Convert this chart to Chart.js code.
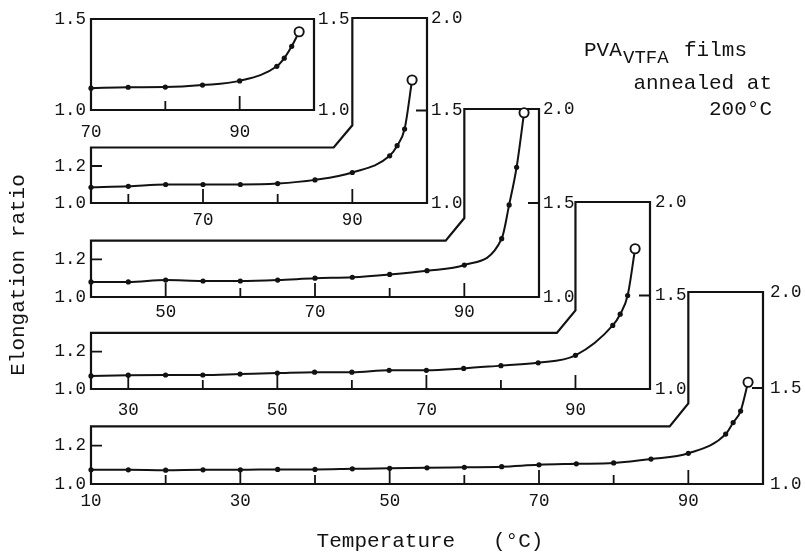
<!DOCTYPE html>
<html>
<head>
<meta charset="utf-8">
<script src="https://cdn.jsdelivr.net/npm/chart.js@4.4.1/dist/chart.umd.min.js"></script>
<style>
  html, body { margin: 0; padding: 0; background: #fff; }
  #wrap { position: relative; width: 805px; height: 552px; }
  #wrap canvas { position: absolute; left: 0; top: 0; }
</style>
</head>
<body>
<div id="wrap">
  <canvas id="p1" width="805" height="552"></canvas>
  <canvas id="p2" width="805" height="552"></canvas>
  <canvas id="p3" width="805" height="552"></canvas>
  <canvas id="p4" width="805" height="552"></canvas>
  <canvas id="p5" width="805" height="552"></canvas>
</div>
<script>
// Temperature (°C) and elongation ratio, one pair per panel (top to bottom)
const temps1 = [70, 75, 80, 85, 90, 95, 96, 97, 98];
const ratio1 = [1.12, 1.125, 1.126, 1.137, 1.16, 1.24, 1.285, 1.35, 1.43];

const temps2 = [55, 60, 65, 70, 75, 80, 85, 90, 95, 96, 97, 98];
const ratio2 = [1.085, 1.09, 1.1, 1.1, 1.1, 1.105, 1.125, 1.165, 1.255, 1.31, 1.4, 1.665];

const temps3 = [40, 45, 50, 55, 60, 65, 70, 75, 80, 85, 90, 95, 96, 97, 98];
const ratio3 = [1.08, 1.08, 1.09, 1.085, 1.085, 1.09, 1.1, 1.105, 1.12, 1.14, 1.17, 1.31, 1.49, 1.69, 1.98];

const temps4 = [25, 30, 35, 40, 45, 50, 55, 60, 65, 70, 75, 80, 85, 90, 95, 96, 97, 98];
const ratio4 = [1.07, 1.074, 1.075, 1.075, 1.08, 1.085, 1.09, 1.09, 1.1, 1.1, 1.11, 1.125, 1.14, 1.18, 1.34, 1.4, 1.5, 1.75];

const temps5 = [10, 15, 20, 25, 30, 35, 40, 45, 50, 55, 60, 65, 70, 75, 80, 85, 90, 95, 96, 97, 98];
const ratio5 = [1.074, 1.074, 1.072, 1.074, 1.074, 1.076, 1.076, 1.079, 1.082, 1.084, 1.087, 1.09, 1.1, 1.105, 1.11, 1.13, 1.16, 1.26, 1.32, 1.38, 1.53];

// Axis ranges and tick labels
const xMins = [70, 55, 40, 25, 10];
const xMax = 100;
const xLabels1 = [70, 90];
const xLabels2 = [70, 90];
const xLabels3 = [50, 70, 90];
const xLabels4 = [30, 50, 70, 90];
const xLabels5 = [10, 30, 50, 70, 90];
const xMinor1 = [80];
const xMinor2 = [60, 80];
const xMinor3 = [60, 80];
const xMinor4 = [40, 60, 80];
const xMinor5 = [20, 40, 60, 80];
const yLeftShort = [1.0, 1.5];
const yRightShort = [1.0, 1.5];
const yLeftTall = [1.0, 1.2];
const yRightTall = [1.0, 1.5, 2.0];

// Shape of the stepped frame (data units)
const stripTop = 1.3;
const stepStart = 87.5;
const stepEnd = 90;
const stepY = 1.42;

// Where each panel sits on the page (pixels)
const boxes = [
  { left: 91, right: 314, top: 19, bottom: 110, labelDy: 22, rightGap: 4 },
  { left: 91, right: 427, top: 18, bottom: 203, labelDy: 17, rightGap: 4 },
  { left: 91, right: 539, top: 109, bottom: 297, labelDy: 15, rightGap: 4 },
  { left: 91, right: 650, top: 202, bottom: 389, labelDy: 21, rightGap: 5 },
  { left: 91, right: 763, top: 292, bottom: 484, labelDy: 17, rightGap: 7 },
];

const INK = "#121212";
const tickFont = '17.5px "Liberation Mono", "DejaVu Sans Mono", monospace';
const titleFont = '21px "Liberation Mono", "DejaVu Sans Mono", monospace';
const noteFont = '21px "Liberation Mono", "DejaVu Sans Mono", monospace';
const subFont = '19px "Liberation Mono", "DejaVu Sans Mono", monospace';

// Frame, ticks and tick labels, drawn from the chart's own scales
function framePlugin(cfg) {
  return {
    id: "frame" + cfg.id,
    beforeDatasetsDraw(chart) {
      const { ctx } = chart;
      const x = chart.scales.x;
      const y = chart.scales.y;
      const xMin = x.min;
      const yMax = y.max;
      const X = (v) => x.getPixelForValue(v);
      const Y = (v) => y.getPixelForValue(v);

      const outline = cfg.tall
        ? [[xMin, 1], [xMin, stripTop], [stepStart, stripTop], [stepEnd, stepY], [stepEnd, yMax], [xMax, yMax], [xMax, 1]]
        : [[xMin, 1], [xMin, yMax], [xMax, yMax], [xMax, 1]];

      ctx.save();
      ctx.strokeStyle = INK;
      ctx.lineWidth = 2.2;
      ctx.lineJoin = "miter";
      ctx.beginPath();
      outline.forEach((p, i) => {
        if (i === 0) ctx.moveTo(X(p[0]), Y(p[1]));
        else ctx.lineTo(X(p[0]), Y(p[1]));
      });
      ctx.closePath();
      ctx.stroke();

      // x ticks grow upward from the bottom edge
      const bottom = Y(1);
      ctx.lineWidth = 1.8;
      ctx.beginPath();
      cfg.xLabels.filter((v) => v > xMin).forEach((v) => {
        ctx.moveTo(X(v), bottom);
        ctx.lineTo(X(v), bottom - 14);
      });
      cfg.xMinor.forEach((v) => {
        ctx.moveTo(X(v), bottom);
        ctx.lineTo(X(v), bottom - 9);
      });
      // inner y ticks
      cfg.yLeft.filter((v) => v > 1 && v < yMax).forEach((v) => {
        ctx.moveTo(X(xMin), Y(v));
        ctx.lineTo(X(xMin) + 11, Y(v));
      });
      cfg.yRight.filter((v) => v > 1 && v < yMax).forEach((v) => {
        ctx.moveTo(X(xMax), Y(v));
        ctx.lineTo(X(xMax) - 11, Y(v));
      });
      ctx.stroke();

      // tick labels
      ctx.fillStyle = INK;
      ctx.font = tickFont;
      ctx.textBaseline = "middle";
      ctx.textAlign = "center";
      cfg.xLabels.forEach((v) => ctx.fillText(String(v), X(v), bottom + cfg.box.labelDy));
      ctx.textAlign = "right";
      cfg.yLeft.forEach((v) => ctx.fillText(v.toFixed(1), X(xMin) - 5, Y(v)));
      ctx.textAlign = "left";
      cfg.yRight.forEach((v) => ctx.fillText(v.toFixed(1), X(xMax) + cfg.box.rightGap, Y(v)));
      ctx.restore();
    },
  };
}

// Axis titles and the note, drawn once on the last panel
const titlesPlugin = {
  id: "titles",
  afterDraw(chart) {
    const { ctx } = chart;
    ctx.save();
    ctx.fillStyle = INK;
    ctx.textBaseline = "middle";
    ctx.font = titleFont;
    ctx.textAlign = "center";
    ctx.fillText("Temperature   (°C)", 430, 541);
    ctx.save();
    ctx.translate(18, 275);
    ctx.rotate(-Math.PI / 2);
    ctx.fillText("Elongation ratio", 0, 0);
    ctx.restore();

    ctx.textAlign = "left";
    ctx.font = noteFont;
    ctx.fillText("PVA", 584, 50);
    ctx.font = subFont;
    ctx.fillText("VTFA", 623, 58);
    ctx.font = noteFont;
    ctx.fillText("films", 684, 50);
    ctx.textAlign = "right";
    ctx.fillText("annealed at", 772, 83);
    ctx.fillText("200°C", 772, 109);
    ctx.restore();
  },
};

// Build one panel
function sortuPanel(id, temps, ratios, cfg) {
  const box = cfg.box;
  const last = temps.length - 1;
  const plugins = [framePlugin(Object.assign({ id }, cfg))];
  if (cfg.withTitles) plugins.push(titlesPlugin);

  new Chart(document.getElementById(id), {
    type: "line",
    data: {
      datasets: [
        {
          data: temps.map((t, i) => ({ x: t, y: ratios[i] })),
          borderColor: INK,
          borderWidth: 2,
          cubicInterpolationMode: "monotone",
          clip: false,
          pointRadius: (c) => (c.dataIndex === last ? 4.6 : 2.6),
          pointBackgroundColor: (c) => (c.dataIndex === last ? "#fff" : INK),
          pointBorderColor: INK,
          pointBorderWidth: (c) => (c.dataIndex === last ? 1.9 : 0),
        },
      ],
    },
    options: {
      responsive: false,
      animation: false,
      devicePixelRatio: 1,
      events: [],
      layout: {
        padding: { left: box.left, top: box.top, right: 805 - box.right, bottom: 552 - box.bottom },
      },
      plugins: { legend: { display: false }, tooltip: { enabled: false } },
      scales: {
        x: { type: "linear", min: cfg.xMin, max: xMax, display: false },
        y: { type: "linear", min: 1.0, max: cfg.yMax, display: false },
      },
    },
    plugins: plugins,
  });
}

sortuPanel("p1", temps1, ratio1, { box: boxes[0], xMin: xMins[0], yMax: 1.5, tall: false, xLabels: xLabels1, xMinor: xMinor1, yLeft: yLeftShort, yRight: yRightShort });
sortuPanel("p2", temps2, ratio2, { box: boxes[1], xMin: xMins[1], yMax: 2.0, tall: true, xLabels: xLabels2, xMinor: xMinor2, yLeft: yLeftTall, yRight: yRightTall });
sortuPanel("p3", temps3, ratio3, { box: boxes[2], xMin: xMins[2], yMax: 2.0, tall: true, xLabels: xLabels3, xMinor: xMinor3, yLeft: yLeftTall, yRight: yRightTall });
sortuPanel("p4", temps4, ratio4, { box: boxes[3], xMin: xMins[3], yMax: 2.0, tall: true, xLabels: xLabels4, xMinor: xMinor4, yLeft: yLeftTall, yRight: yRightTall });
sortuPanel("p5", temps5, ratio5, { box: boxes[4], xMin: xMins[4], yMax: 2.0, tall: true, xLabels: xLabels5, xMinor: xMinor5, yLeft: yLeftTall, yRight: yRightTall, withTitles: true });
</script>
</body>
</html>
